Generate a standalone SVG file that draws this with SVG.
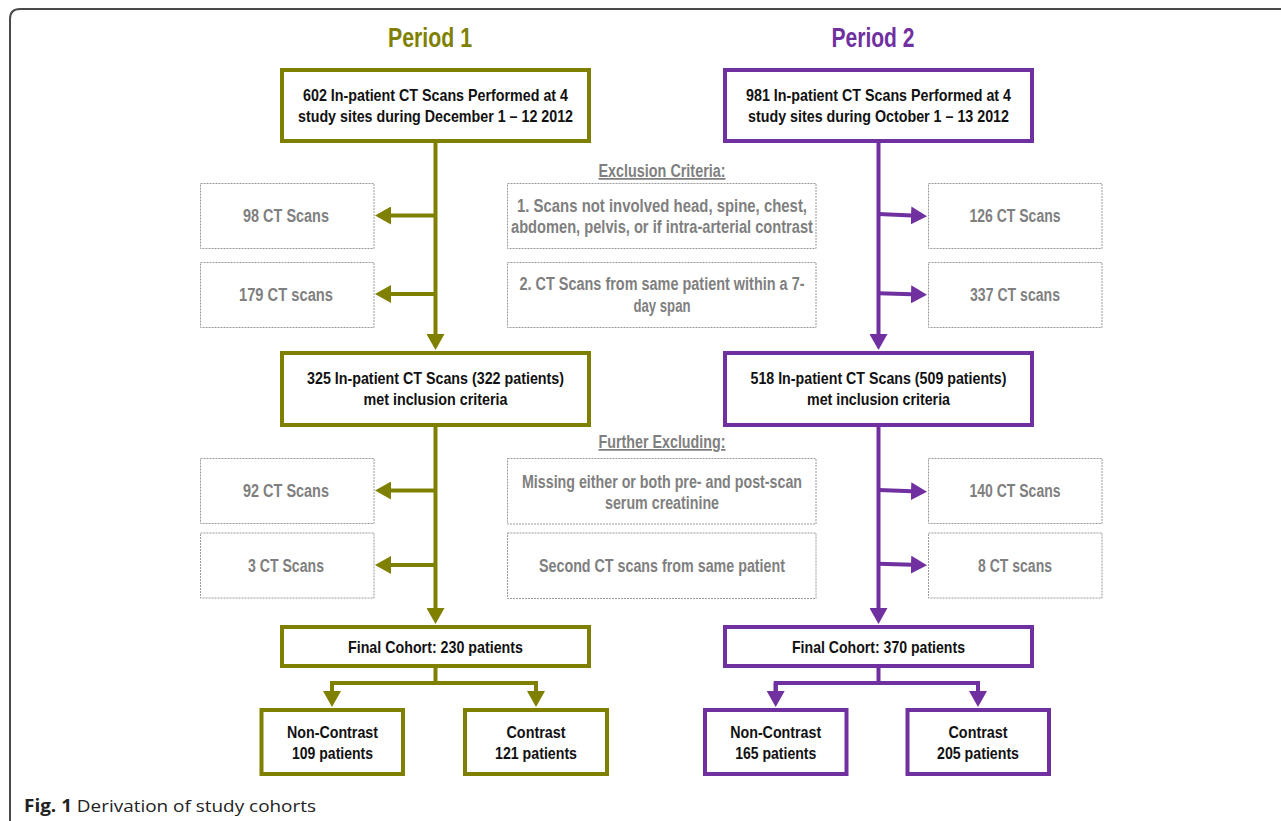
<svg xmlns="http://www.w3.org/2000/svg" width="1281" height="821" viewBox="0 0 1281 821">
<defs>
<style>
.frame{fill:none;stroke:#4a4a4a;stroke-width:2}
.t{font-family:"Liberation Sans Narrow","Liberation Sans",Arial,sans-serif;font-weight:bold;text-anchor:middle}
.title{font-size:27px}
.bt{font-size:16.5px;fill:#111}
.gt{font-size:17.5px;fill:#7f7f7f}
.hd{font-size:17.5px;fill:#7f7f7f;text-decoration:underline}
.b1{fill:#fff;stroke:#808000;stroke-width:4}
.b2{fill:#fff;stroke:#7030a0;stroke-width:4}
.d{fill:#fff;stroke:#9a9a9a;stroke-width:1;stroke-dasharray:2 1}
.l1{fill:none;stroke:#808000;stroke-width:4}
.l2{fill:none;stroke:#7030a0;stroke-width:4}
.cap{font-family:"Open Sans","Noto Sans","Liberation Sans",sans-serif;font-size:17px;fill:#222}
</style>
<marker id="a1" markerUnits="userSpaceOnUse" markerWidth="17" markerHeight="18" refX="1" refY="9" orient="auto" viewBox="0 0 17 18"><path d="M0,0 L16,9 L0,18 z" fill="#808000"/></marker>
<marker id="a2" markerUnits="userSpaceOnUse" markerWidth="17" markerHeight="18" refX="1" refY="9" orient="auto" viewBox="0 0 17 18"><path d="M0,0 L16,9 L0,18 z" fill="#7030a0"/></marker>
</defs>
<rect width="1281" height="821" fill="#fff"/>
<path class="frame" d="M10,821 V19 Q10,9 20,9 H1281"/>

<g id="title1"><text class="t title" x="430" y="47" fill="#808000" textLength="84" lengthAdjust="spacingAndGlyphs">Period 1</text></g>
<g id="title2"><text class="t title" x="873" y="47" fill="#7030a0" textLength="83" lengthAdjust="spacingAndGlyphs">Period 2</text></g>

<g id="connectors">
<path class="l1" d="M435.5,143 V335" marker-end="url(#a1)"/>
<path class="l1" d="M435.5,215.5 H390" marker-end="url(#a1)"/>
<path class="l1" d="M435.5,294 H390" marker-end="url(#a1)"/>
<path class="l1" d="M435.5,427 V609" marker-end="url(#a1)"/>
<path class="l1" d="M435.5,490.5 H390" marker-end="url(#a1)"/>
<path class="l1" d="M435.5,565 H390" marker-end="url(#a1)"/>
<path class="l1" d="M435.5,668 V683 M332,693 V683 H536 V693"/>
<path class="l1" d="M332,683 V692" marker-end="url(#a1)"/>
<path class="l1" d="M536,683 V692" marker-end="url(#a1)"/>

<path class="l2" d="M878.5,143 V335" marker-end="url(#a2)"/>
<path class="l2" d="M878.5,214 L912,215.5" marker-end="url(#a2)"/>
<path class="l2" d="M878.5,293.3 L912,294.3" marker-end="url(#a2)"/>
<path class="l2" d="M878.5,427 V609" marker-end="url(#a2)"/>
<path class="l2" d="M878.5,490 L912,491.2" marker-end="url(#a2)"/>
<path class="l2" d="M878.5,563.7 L912,564.7" marker-end="url(#a2)"/>
<path class="l2" d="M878.5,668 V683 M775.7,693 V683 H978 V693"/>
<path class="l2" d="M775.7,683 V692" marker-end="url(#a2)"/>
<path class="l2" d="M978,683 V692" marker-end="url(#a2)"/>
</g>

<g id="p1-start"><rect class="b1" x="282" y="70" width="307" height="71"/>
<text class="t bt" x="435.5" y="101" textLength="265" lengthAdjust="spacingAndGlyphs">602 In-patient CT Scans Performed at 4</text>
<text class="t bt" x="435.5" y="122" textLength="275" lengthAdjust="spacingAndGlyphs">study sites during December 1 – 12 2012</text></g>

<g id="p2-start"><rect class="b2" x="725" y="70" width="307" height="71"/>
<text class="t bt" x="878.5" y="101" textLength="265" lengthAdjust="spacingAndGlyphs">981 In-patient CT Scans Performed at 4</text>
<text class="t bt" x="878.5" y="122" textLength="261" lengthAdjust="spacingAndGlyphs">study sites during October 1 – 13 2012</text></g>

<g id="excl-head"><text class="t hd" x="662" y="177" textLength="127" lengthAdjust="spacingAndGlyphs">Exclusion Criteria:</text></g>

<g id="p1-ex1"><rect class="d" x="200.5" y="183.5" width="173.5" height="65"/>
<text class="t gt" x="286" y="222" textLength="86" lengthAdjust="spacingAndGlyphs">98 CT Scans</text></g>
<g id="p1-ex2"><rect class="d" x="200.5" y="262.5" width="173.5" height="65"/>
<text class="t gt" x="286" y="300.5" textLength="94" lengthAdjust="spacingAndGlyphs">179 CT scans</text></g>

<g id="crit1"><rect class="d" x="507.5" y="183.5" width="308.5" height="65"/>
<text class="t gt" x="662" y="211.5" textLength="290" lengthAdjust="spacingAndGlyphs">1. Scans not involved head, spine, chest,</text>
<text class="t gt" x="662" y="233" textLength="302" lengthAdjust="spacingAndGlyphs">abdomen, pelvis, or if intra-arterial contrast</text></g>
<g id="crit2"><rect class="d" x="507.5" y="262.5" width="308.5" height="65"/>
<text class="t gt" x="662" y="289.5" textLength="285" lengthAdjust="spacingAndGlyphs">2. CT Scans from same patient within a 7-</text>
<text class="t gt" x="662" y="311.5" textLength="57" lengthAdjust="spacingAndGlyphs">day span</text></g>

<g id="p2-ex1"><rect class="d" x="928.5" y="183.5" width="173.5" height="65"/>
<text class="t gt" x="1015" y="222" textLength="91" lengthAdjust="spacingAndGlyphs">126 CT Scans</text></g>
<g id="p2-ex2"><rect class="d" x="928.5" y="262.5" width="173.5" height="65"/>
<text class="t gt" x="1015" y="300.5" textLength="90" lengthAdjust="spacingAndGlyphs">337 CT scans</text></g>

<g id="p1-incl"><rect class="b1" x="282" y="353" width="307" height="72"/>
<text class="t bt" x="435.5" y="384" textLength="257" lengthAdjust="spacingAndGlyphs">325 In-patient CT Scans (322 patients)</text>
<text class="t bt" x="435.5" y="405" textLength="144" lengthAdjust="spacingAndGlyphs">met inclusion criteria</text></g>

<g id="p2-incl"><rect class="b2" x="725" y="353" width="307" height="72"/>
<text class="t bt" x="878.5" y="384" textLength="256" lengthAdjust="spacingAndGlyphs">518 In-patient CT Scans (509 patients)</text>
<text class="t bt" x="878.5" y="405" textLength="143" lengthAdjust="spacingAndGlyphs">met inclusion criteria</text></g>

<g id="further-head"><text class="t hd" x="662" y="448" textLength="127" lengthAdjust="spacingAndGlyphs">Further Excluding:</text></g>

<g id="p1-ex3"><rect class="d" x="200.5" y="458.5" width="173.5" height="65"/>
<text class="t gt" x="286" y="497" textLength="86" lengthAdjust="spacingAndGlyphs">92 CT Scans</text></g>
<g id="p1-ex4"><rect class="d" x="200.5" y="533" width="173.5" height="65"/>
<text class="t gt" x="286" y="571.5" textLength="76" lengthAdjust="spacingAndGlyphs">3 CT Scans</text></g>

<g id="crit3"><rect class="d" x="507.5" y="458.5" width="308.5" height="65.5"/>
<text class="t gt" x="662" y="488" textLength="280" lengthAdjust="spacingAndGlyphs">Missing either or both pre- and post-scan</text>
<text class="t gt" x="662" y="509" textLength="114" lengthAdjust="spacingAndGlyphs">serum creatinine</text></g>
<g id="crit4"><rect class="d" x="507.5" y="533" width="308.5" height="65.5"/>
<text class="t gt" x="662" y="571.5" textLength="246" lengthAdjust="spacingAndGlyphs">Second CT scans from same patient</text></g>

<g id="p2-ex3"><rect class="d" x="928.5" y="458.5" width="173.5" height="65"/>
<text class="t gt" x="1015" y="497" textLength="91" lengthAdjust="spacingAndGlyphs">140 CT Scans</text></g>
<g id="p2-ex4"><rect class="d" x="928.5" y="533" width="173.5" height="65"/>
<text class="t gt" x="1015" y="571.5" textLength="74" lengthAdjust="spacingAndGlyphs">8 CT scans</text></g>

<g id="p1-final"><rect class="b1" x="282" y="627" width="307" height="39"/>
<text class="t bt" x="435.5" y="652.5" textLength="175" lengthAdjust="spacingAndGlyphs">Final Cohort: 230 patients</text></g>
<g id="p2-final"><rect class="b2" x="725" y="627" width="307" height="39"/>
<text class="t bt" x="878.5" y="652.5" textLength="173" lengthAdjust="spacingAndGlyphs">Final Cohort: 370 patients</text></g>

<g id="p1-noncontrast"><rect class="b1" x="261.5" y="710" width="141.5" height="64"/>
<text class="t bt" x="332.5" y="737.5" textLength="91" lengthAdjust="spacingAndGlyphs">Non-Contrast</text>
<text class="t bt" x="332.5" y="758.5" textLength="81" lengthAdjust="spacingAndGlyphs">109 patients</text></g>
<g id="p1-contrast"><rect class="b1" x="465" y="710" width="142" height="64"/>
<text class="t bt" x="536" y="737.5" textLength="59" lengthAdjust="spacingAndGlyphs">Contrast</text>
<text class="t bt" x="536" y="758.5" textLength="82" lengthAdjust="spacingAndGlyphs">121 patients</text></g>

<g id="p2-noncontrast"><rect class="b2" x="705" y="710" width="141.5" height="64"/>
<text class="t bt" x="775.7" y="737.5" textLength="91" lengthAdjust="spacingAndGlyphs">Non-Contrast</text>
<text class="t bt" x="775.7" y="758.5" textLength="81" lengthAdjust="spacingAndGlyphs">165 patients</text></g>
<g id="p2-contrast"><rect class="b2" x="907.5" y="710" width="141.5" height="64"/>
<text class="t bt" x="978" y="737.5" textLength="59" lengthAdjust="spacingAndGlyphs">Contrast</text>
<text class="t bt" x="978" y="758.5" textLength="82" lengthAdjust="spacingAndGlyphs">205 patients</text></g>

<g id="caption"><text class="cap" x="24" y="812" textLength="292" lengthAdjust="spacingAndGlyphs"><tspan font-weight="bold">Fig. 1</tspan> Derivation of study cohorts</text></g>
</svg>
